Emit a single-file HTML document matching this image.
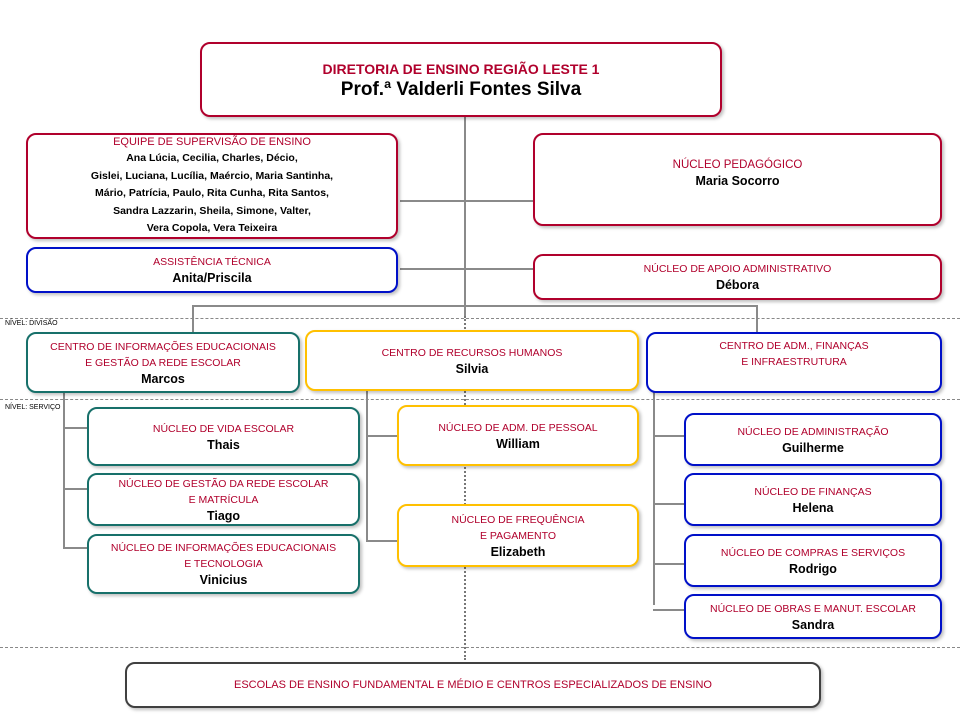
<!DOCTYPE html>
<html><head><meta charset="utf-8"><style>
body{margin:0;width:960px;height:720px;background:#fff;position:relative;overflow:hidden;font-family:"Liberation Sans",sans-serif}
.b{position:absolute;box-sizing:border-box;border:2px solid;border-radius:10px;background:#fff;display:flex;flex-direction:column;justify-content:center;align-items:center;text-align:center;box-shadow:2px 2px 3px rgba(0,0,0,.25)}
.r{color:#b0002c;font-size:10.5px;line-height:16px}
.n{color:#000;font-weight:bold;font-size:12.5px;line-height:16px}
.red{border-color:#b0002c}.teal{border-color:#17706a}.yel{border-color:#ffc000}.blu{border-color:#0010c8}
.l{position:absolute;background:#8a8a8a}
.d{position:absolute;left:0;width:960px;border-top:1px dashed #888}
.lab{position:absolute;left:5px;font-size:7px;color:#000}
</style></head><body>
<div class="l" style="left:464px;top:116px;width:2px;height:200px"></div>
<div style="position:absolute;left:464px;top:316px;height:344px;border-left:2px dotted #777"></div>
<div class="l" style="left:400px;top:200px;width:133px;height:2px"></div>
<div class="l" style="left:400px;top:268px;width:133px;height:2px"></div>
<div class="l" style="left:192px;top:305px;width:566px;height:2px"></div>
<div class="l" style="left:192px;top:305px;width:2px;height:27px"></div>
<div class="l" style="left:756px;top:305px;width:2px;height:27px"></div>
<div class="d" style="top:318px"></div>
<div class="d" style="top:399px"></div>
<div class="d" style="top:647px"></div>
<div class="lab" style="top:320px">NÍVEL: DIVISÃO</div>
<div class="lab" style="top:404px">NÍVEL: SERVIÇO</div>
<div class="l" style="left:63px;top:392px;width:2px;height:157px"></div>
<div class="l" style="left:63px;top:427px;width:24px;height:2px"></div>
<div class="l" style="left:63px;top:488px;width:24px;height:2px"></div>
<div class="l" style="left:63px;top:547px;width:24px;height:2px"></div>
<div class="l" style="left:366px;top:390px;width:2px;height:152px"></div>
<div class="l" style="left:366px;top:435px;width:31px;height:2px"></div>
<div class="l" style="left:366px;top:540px;width:31px;height:2px"></div>
<div class="l" style="left:653px;top:392px;width:2px;height:213px"></div>
<div class="l" style="left:653px;top:435px;width:31px;height:2px"></div>
<div class="l" style="left:653px;top:503px;width:31px;height:2px"></div>
<div class="l" style="left:653px;top:563px;width:31px;height:2px"></div>
<div class="l" style="left:653px;top:609px;width:31px;height:2px"></div>

<div class="b red" style="left:200px;top:42px;width:522px;height:75px"><div style="color:#b0002c;font-weight:bold;font-size:14px;line-height:20px">DIRETORIA DE ENSINO REGIÃO LESTE 1</div><div style="font-weight:bold;font-size:19px;line-height:22px">Prof.ª Valderli Fontes Silva</div></div>
<div class="b red" style="left:26px;top:133px;width:372px;height:106px"><div class="r" style="font-size:11px">EQUIPE DE SUPERVISÃO DE ENSINO</div><div class="n" style="font-size:10.5px;line-height:17.5px">Ana Lúcia, Cecilia, Charles, Décio,<br>Gislei, Luciana, Lucília, Maércio, Maria Santinha,<br>Mário, Patrícia, Paulo, Rita Cunha, Rita Santos,<br>Sandra Lazzarin, Sheila, Simone, Valter,<br>Vera Copola, Vera Teixeira</div></div>
<div class="b red" style="left:533px;top:133px;width:409px;height:93px;justify-content:flex-start;padding-top:22px"><div class="r" style="font-size:11.5px">NÚCLEO PEDAGÓGICO</div><div class="n">Maria Socorro</div></div>
<div class="b blu" style="left:26px;top:247px;width:372px;height:46px"><div class="r">ASSISTÊNCIA TÉCNICA</div><div class="n">Anita/Priscila</div></div>
<div class="b red" style="left:533px;top:254px;width:409px;height:46px"><div class="r">NÚCLEO DE APOIO ADMINISTRATIVO</div><div class="n">Débora</div></div>

<div class="b teal" style="left:26px;top:332px;width:274px;height:61px"><div class="r">CENTRO DE INFORMAÇÕES EDUCACIONAIS<br>E GESTÃO DA REDE ESCOLAR</div><div class="n">Marcos</div></div>
<div class="b yel" style="left:305px;top:330px;width:334px;height:61px"><div class="r">CENTRO DE RECURSOS HUMANOS</div><div class="n">Silvia</div></div>
<div class="b blu" style="left:646px;top:332px;width:296px;height:61px;justify-content:flex-start;padding-top:4px"><div class="r">CENTRO DE ADM., FINANÇAS<br>E INFRAESTRUTURA</div></div>

<div class="b teal" style="left:87px;top:407px;width:273px;height:59px"><div class="r">NÚCLEO DE VIDA ESCOLAR</div><div class="n">Thais</div></div>
<div class="b teal" style="left:87px;top:473px;width:273px;height:53px"><div class="r">NÚCLEO DE GESTÃO DA REDE ESCOLAR<br>E MATRÍCULA</div><div class="n">Tiago</div></div>
<div class="b teal" style="left:87px;top:534px;width:273px;height:60px"><div class="r">NÚCLEO DE INFORMAÇÕES EDUCACIONAIS<br>E TECNOLOGIA</div><div class="n">Vinicius</div></div>

<div class="b yel" style="left:397px;top:405px;width:242px;height:61px"><div class="r">NÚCLEO DE ADM. DE PESSOAL</div><div class="n">William</div></div>
<div class="b yel" style="left:397px;top:504px;width:242px;height:63px"><div class="r">NÚCLEO DE FREQUÊNCIA<br>E PAGAMENTO</div><div class="n">Elizabeth</div></div>

<div class="b blu" style="left:684px;top:413px;width:258px;height:53px"><div class="r">NÚCLEO DE ADMINISTRAÇÃO</div><div class="n">Guilherme</div></div>
<div class="b blu" style="left:684px;top:473px;width:258px;height:53px"><div class="r">NÚCLEO DE FINANÇAS</div><div class="n">Helena</div></div>
<div class="b blu" style="left:684px;top:534px;width:258px;height:53px"><div class="r">NÚCLEO DE COMPRAS E SERVIÇOS</div><div class="n">Rodrigo</div></div>
<div class="b blu" style="left:684px;top:594px;width:258px;height:45px"><div class="r">NÚCLEO DE OBRAS E MANUT. ESCOLAR</div><div class="n">Sandra</div></div>

<div class="b" style="left:125px;top:662px;width:696px;height:46px;border-color:#404040"><div class="r" style="font-size:11px">ESCOLAS DE ENSINO FUNDAMENTAL E MÉDIO E CENTROS ESPECIALIZADOS DE ENSINO</div></div>
</body></html>
